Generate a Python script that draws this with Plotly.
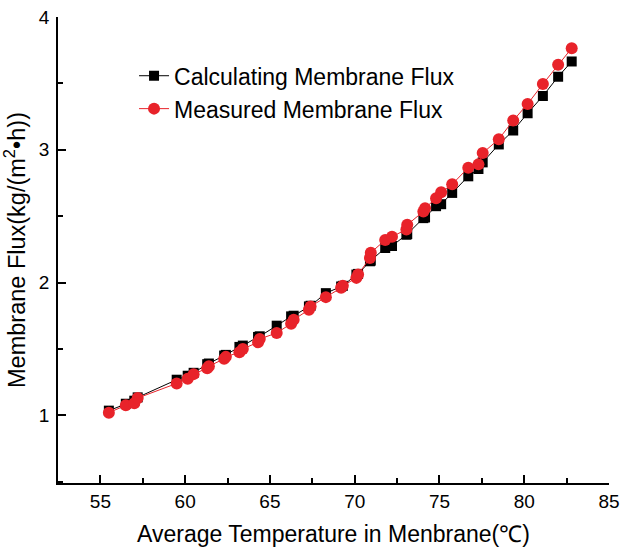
import plotly.graph_objects as go

# Average membrane temperature (°C)
temperature = [55.5, 56.5, 57.0, 57.2, 59.5, 60.15, 60.5, 61.3, 61.4, 62.3, 62.4,
               63.2, 63.4, 64.3, 64.4, 65.4, 66.25, 66.4, 67.3, 67.4, 68.3, 69.2,
               69.3, 70.1, 70.2, 70.9, 70.95, 71.8, 72.2, 73.05, 73.1, 74.05, 74.15,
               74.8, 75.1, 75.75, 76.7, 77.3, 77.55, 78.5, 79.35, 80.2, 81.1, 82.0, 82.8]

# Model-calculated membrane flux, kg/(m2·h)
flux_calculated = [1.035, 1.087, 1.11, 1.135, 1.268, 1.298, 1.32, 1.385, 1.39, 1.45, 1.455,
                   1.515, 1.525, 1.59, 1.595, 1.675, 1.745, 1.75, 1.82, 1.825, 1.92, 1.97,
                   1.975, 2.06, 2.065, 2.16, 2.165, 2.26, 2.275, 2.36, 2.365, 2.485, 2.49,
                   2.575, 2.59, 2.675, 2.80, 2.855, 2.905, 3.04, 3.145, 3.275, 3.405, 3.55, 3.665]

# Experimentally measured membrane flux, kg/(m2·h)
flux_measured = [1.02, 1.075, 1.09, 1.13, 1.24, 1.275, 1.31, 1.355, 1.37, 1.425, 1.44,
                 1.475, 1.50, 1.55, 1.575, 1.62, 1.69, 1.72, 1.795, 1.82, 1.89, 1.96,
                 1.975, 2.035, 2.06, 2.185, 2.225, 2.32, 2.345, 2.40, 2.435, 2.535, 2.56,
                 2.635, 2.68, 2.74, 2.865, 2.89, 2.975, 3.08, 3.22, 3.345, 3.495, 3.64, 3.765]

FONT = "Liberation Sans, Arial, sans-serif"

fig = go.Figure()
fig.add_trace(go.Scatter(
    x=temperature, y=flux_calculated, mode="lines+markers",
    name="Calculating Membrane Flux",
    line=dict(color="black", width=1),
    marker=dict(symbol="square", size=10, color="black"),
))
fig.add_trace(go.Scatter(
    x=temperature, y=flux_measured, mode="lines+markers",
    name="Measured Membrane Flux",
    line=dict(color="#e8232a", width=1),
    marker=dict(symbol="circle", size=12, color="#e8232a"),
))

axis_common = dict(
    showgrid=False, zeroline=False, showline=True, linecolor="black", linewidth=1.5,
    ticks="inside", ticklen=8, tickwidth=1.5, tickcolor="black",
    tickfont=dict(family=FONT, size=19, color="black"),
    mirror=False, automargin=False,
)

fig.update_xaxes(
    range=[52.5, 85], tick0=55, dtick=5,
    minor=dict(ticks="inside", ticklen=5, tickwidth=1.5, tickcolor="black", dtick=2.5, tick0=52.5),
    title=dict(text="Average Temperature in Menbrane(℃)", font=dict(family=FONT, size=23, color="black"),
               standoff=15),
    **axis_common,
)
fig.update_yaxes(
    range=[0.49, 4], tick0=1, dtick=1,
    minor=dict(ticks="inside", ticklen=5, tickwidth=1.5, tickcolor="black", dtick=0.5, tick0=0.5),
    ticklabelstandoff=3,
    title=dict(text="Membrane Flux(kg/(m<sup>2</sup>•h))", font=dict(family=FONT, size=23.5, color="black"),
               standoff=9),
    **axis_common,
)

fig.update_layout(
    width=621, height=554,
    margin=dict(l=58, r=12, t=17, b=71),
    plot_bgcolor="white", paper_bgcolor="white",
    legend=dict(
        x=0.138, y=0.92, xanchor="left", yanchor="top",
        font=dict(family=FONT, size=23, color="black"),
        bgcolor="rgba(0,0,0,0)", tracegroupgap=0,
    ),
)

fig.write_html("out.html")
